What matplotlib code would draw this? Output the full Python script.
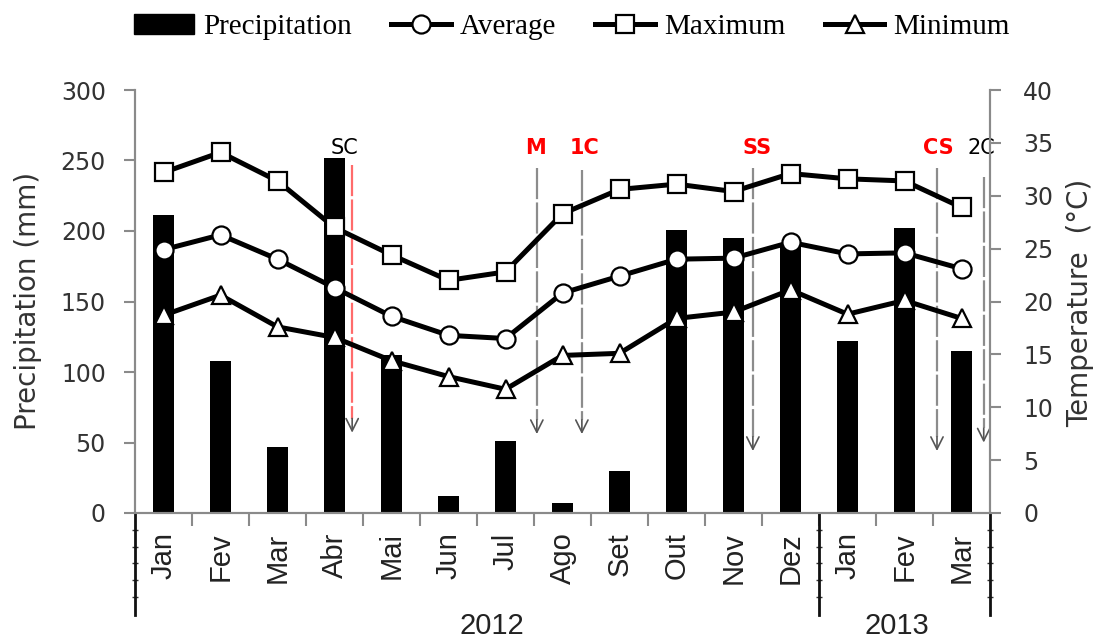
import matplotlib
matplotlib.use("Agg")
import matplotlib.pyplot as plt
from matplotlib.lines import Line2D
from matplotlib.patches import Patch
import numpy as np

months = ["Jan", "Fev", "Mar", "Abr", "Mai", "Jun", "Jul", "Ago", "Set",
          "Out", "Nov", "Dez", "Jan", "Fev", "Mar"]
years = ["2012", "2013"]

precipitation = [211, 108, 47, 252, 112, 12, 51, 7, 30, 201, 195, 191, 122, 202, 115]
t_maximum = [32.2, 34.1, 31.4, 27.0, 24.4, 22.0, 22.8, 28.3, 30.6, 31.1, 30.4, 32.1, 31.6, 31.4, 28.9]
t_average = [24.9, 26.3, 24.0, 21.3, 18.6, 16.8, 16.5, 20.8, 22.4, 24.0, 24.1, 25.6, 24.5, 24.6, 23.1]
t_minimum = [18.7, 20.6, 17.6, 16.6, 14.4, 12.9, 11.7, 14.9, 15.1, 18.4, 19.0, 21.1, 18.8, 20.1, 18.4]

# management events: label, month position, label colour
event_labels = ["SC", "M", "1C", "SS", "CS", "2C"]
event_x = [3.31, 6.55, 7.34, 10.34, 13.57, 14.39]
event_label_x = [3.18, 6.52, 7.39, 10.41, 13.59, 14.34]
event_text_colors = ["black", "red", "red", "red", "red", "black"]
event_line_colors = ["#ff6b6b", "#8c8c8c", "#8c8c8c", "#8c8c8c", "#8c8c8c", "#8c8c8c"]
event_top = [247, 245, 243, 245, 245, 238]
event_tip = [55, 54, 54, 42, 42, 48]

AXIS_GRAY = "#8a8a8a"

fig = plt.figure(figsize=(11.01, 6.39), dpi=100)
ax = fig.add_axes([135 / 1101, 1 - 513 / 639, 855 / 1101, 423 / 639])
ax2 = ax.twinx()

x = np.arange(len(months))

ax.bar(x, precipitation, width=0.38, color="black", zorder=2)

line_style = dict(color="black", linewidth=3.6, markersize=13,
                  markerfacecolor="white", markeredgecolor="black",
                  markeredgewidth=1.6, zorder=3)
ax2.plot(x, t_maximum, marker="s", **line_style)
ax2.plot(x, t_average, marker="o", **line_style)
ax2.plot(x, t_minimum, marker="^", **line_style)

# event lines with arrows
for lab, ex, lx, tc, lc, top, tip in zip(event_labels, event_x, event_label_x,
                                         event_text_colors, event_line_colors,
                                         event_top, event_tip):
    ax.plot([ex, ex], [top, tip + 12], color=lc, linewidth=1.6,
            linestyle=(0, (14, 1.5)), zorder=1)
    ax.annotate("", xy=(ex, tip), xytext=(ex, tip + 14),
                arrowprops=dict(arrowstyle="->", color="#555555", lw=1.2,
                                mutation_scale=22), zorder=1)
    ax.text(lx, 259, lab, color=tc, fontsize=15, ha="center", va="center",
            fontweight="bold" if tc == "red" else "normal",
            family="DejaVu Sans", zorder=4)

ax.set_xlim(-0.5, len(months) - 0.5)
ax.set_ylim(0, 300)
ax2.set_ylim(0, 40)
ax.set_yticks(np.arange(0, 301, 50))
ax2.set_yticks(np.arange(0, 41, 5))

for a in (ax, ax2):
    a.spines["top"].set_visible(False)
    for s in ("left", "right", "bottom"):
        a.spines[s].set_color(AXIS_GRAY)
        a.spines[s].set_linewidth(1.5)

ax.tick_params(axis="y", direction="out", length=8, width=1.5, color=AXIS_GRAY,
               pad=13, labelsize=17, labelcolor="#333333")
ax2.tick_params(axis="y", direction="out", length=8, width=1.5, color=AXIS_GRAY,
                pad=16, labelsize=17, labelcolor="#333333")

ax.set_xticks(x)
ax.set_xticklabels(months, rotation=90, fontsize=21, family="Liberation Sans",
                   color="#222222")
ax.tick_params(axis="x", which="major", length=0, pad=14)
ax.set_xticks(np.arange(0.5, len(months) - 1, 1), minor=True)
ax.tick_params(axis="x", which="minor", direction="out", length=9, width=1.5,
               color=AXIS_GRAY)

fig.text(28 / 1101, 1 - 301 / 639, "Precipitation (mm)", rotation=90,
         ha="center", va="center", fontsize=20, color="#333333")
fig.text(1080 / 1101, 1 - 303 / 639, "Temperature  (°C)", rotation=90,
         ha="center", va="center", fontsize=20, color="#333333")

# year separators under the axis
trans = ax.get_xaxis_transform()
for sx in (-0.5, 11.5, len(months) - 0.5):
    ax.plot([sx, sx], [0, -0.242], color="#111111", linewidth=2,
            transform=trans, clip_on=False, zorder=5)
    ax.plot([sx] * 5, [-0.04, -0.08, -0.118, -0.158, -0.198], linestyle="none",
            marker="_", markersize=5, color="#333333", transform=trans,
            clip_on=False)

ax.text(5.76, -0.286, years[0], transform=trans, ha="center", va="baseline",
        fontsize=21, family="Liberation Sans", color="#222222")
ax.text(12.87, -0.286, years[1], transform=trans, ha="center", va="baseline",
        fontsize=21, family="Liberation Sans", color="#222222")

handles = [
    Patch(facecolor="black", edgecolor="black"),
    Line2D([], [], marker="o", **line_style),
    Line2D([], [], marker="s", **line_style),
    Line2D([], [], marker="^", **line_style),
]
fig.legend(handles, ["Precipitation", "Average", "Maximum", "Minimum"],
           loc="center", bbox_to_anchor=(572 / 1101, 1 - 27 / 639), ncol=4,
           frameon=False, handlelength=2.05, handletextpad=0.3,
           columnspacing=1.35, prop={"family": "Liberation Serif", "size": 21})

fig.savefig("out.png", dpi=100)
